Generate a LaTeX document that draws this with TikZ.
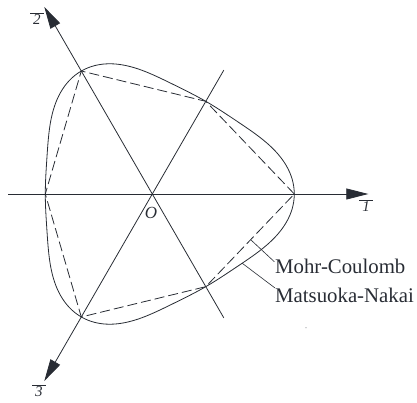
\documentclass[tikz,border=0pt]{standalone}
\usepackage{fontspec}
\setmainfont{Liberation Serif}
\usetikzlibrary{arrows.meta,calc}
\definecolor{ink}{RGB}{40,44,52}
\begin{document}
\begin{tikzpicture}[x=1pt,y=1pt,
  line/.style={draw=ink, line width=0.8pt},
  axis/.style={line, -{Triangle[length=22pt,width=11pt]}},
  mcline/.style={line, dash pattern=on 10pt off 4pt},
  axlab/.style={font=\fontsize{15}{17}\selectfont, inner sep=0pt, text=ink},
  crit/.style={font=\fontsize{20.8}{24}\selectfont, inner sep=0pt, anchor=base west, text=ink},
  leader/.style={line, line width=0.6pt}]
\useasboundingbox (-152.3,-209) rectangle (264.7,194);
\coordinate (O) at (0,0);
% hexagon vertices
\coordinate (c0) at (0:142);
\coordinate (c120) at (120:142);
\coordinate (c240) at (240:142);
\coordinate (t60) at (60:107);
\coordinate (t180) at (180:107);
\coordinate (t300) at (300:107);
% axes
\coordinate (a1s) at (180:144);
\coordinate (a1e) at (0:216);
\coordinate (a2s) at (300:143);
\coordinate (a2e) at (120:216);
\coordinate (a3s) at (60:143);
\coordinate (a3e) at (240:216);
\draw[axis] (a1s) -- (a1e);
\draw[axis] (a2s) -- (a2e);
\draw[axis] (a3s) -- (a3e);
% Matsuoka-Nakai curve
\draw[line] plot[domain=0:357, samples=120, smooth cycle, variable=\t]
  ({\t}:{122+17.5*cos(3*\t)+2.5*cos(6*\t)});
% Mohr-Coulomb hexagon
\draw[mcline] (c0) -- (t60) -- (c120) -- (t180) -- (c240) -- (t300) -- cycle;
% labels
\node[axlab] (l1) at (213.7,-12) {$\overline{\hbox{\kern3pt\itshape 1\kern3pt}}$};
\node[axlab] (l2) at (-115.3,175) {$\overline{\hbox{\kern3pt\itshape 2\kern3pt}}$};
\node[axlab] (l3) at (-113.3,-197) {$\overline{\hbox{\kern3pt\itshape 3\kern3pt}}$};
\node[axlab, font=\fontsize{17}{18}\selectfont\itshape] (o) at (-1.3,-18.5) {O};
% criterion labels
\node[crit] (mctext) at (122.7,-80) {Mohr-Coulomb};
\node[crit] (mntext) at (122.7,-108.7) {Matsuoka-Nakai};
\coordinate (mcp) at ($(c0)!0.493!(t300)$);
\coordinate (mnp) at (-37.6:113.5);
\coordinate (mce) at (122,-67.7);
\coordinate (mne) at (122.7,-94);
\draw[leader] (mcp) -- (mce);
\draw[leader] (mnp) -- (mne);
\fill[ink!50] (153.7,-133.7) circle (0.6);
\end{tikzpicture}
\end{document}
